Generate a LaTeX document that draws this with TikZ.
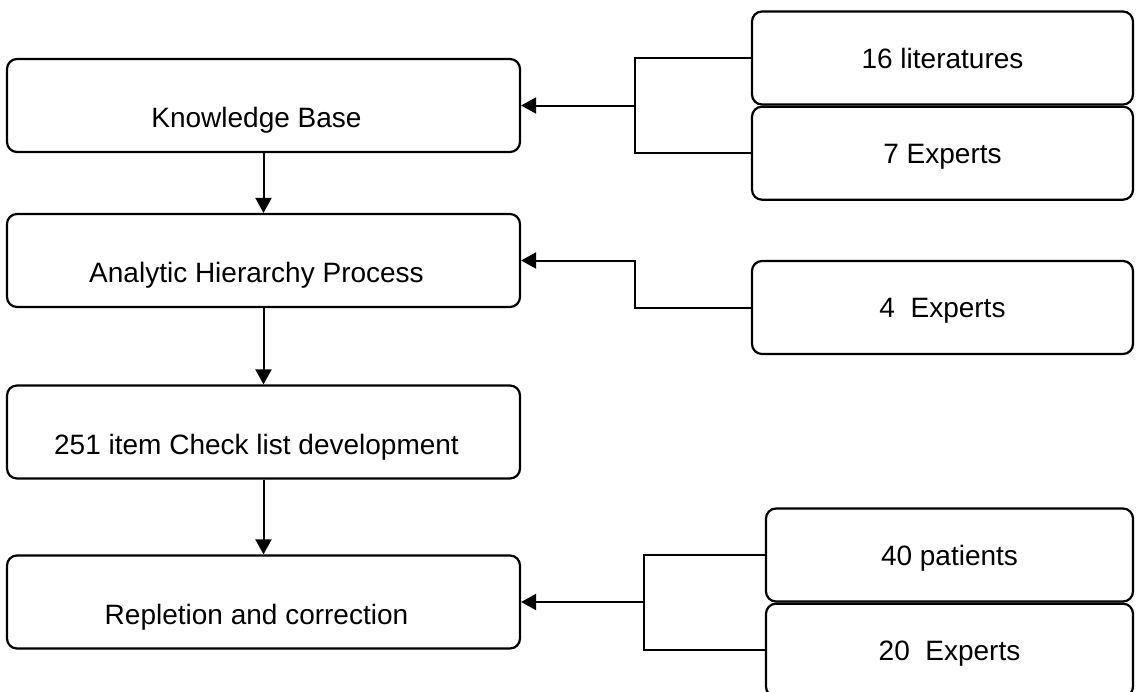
\documentclass[tikz,border=0pt]{standalone}
\usepackage{fontspec}
\setmainfont{Liberation Sans}
\usepackage{tikz}
\usetikzlibrary{positioning,arrows.meta}

\begin{document}
\begin{tikzpicture}[
  x=1pt, y=-1pt,
  node distance=0pt,
  every node/.style={font=\fontsize{28}{33}\selectfont},
  stage/.style={draw, rounded corners=10pt, line width=2.2pt, inner sep=0pt, minimum width=513pt, minimum height=93pt, text height=44pt, text depth=0pt},
  source/.style={draw, rounded corners=10pt, line width=2.2pt, inner sep=0pt, minimum width=381pt, minimum height=93pt, text height=20pt, text depth=0pt},
  arr/.style={-{Triangle[length=15pt, width=16pt]}, line width=2pt},
  link/.style={line width=2.2pt}
]
\useasboundingbox (0,0) rectangle (1140,691);

% main steps
\node[stage] (kb) at (263.5,105.5) {Knowledge Base\hspace*{14pt}};
\node[stage] (ahp) at (263.5,260.5) {Analytic Hierarchy Process\hspace*{14pt}};
\node[stage] (check) at (263.5,432) {251 item Check list development\hspace*{14pt}};
\node[stage] (repl) at (263.5,602) {Repletion and correction\hspace*{14pt}};

% inputs
\node[source] (lit) at (942.5,58) {16 literatures};
\node[source, below=of lit] (exp7) {7 Experts};
\node[source] (exp4) at (942.5,307.5) {4~ Experts};
\node[source, minimum width=367pt] (pat) at (949.5,555) {40 patients};
\node[source, minimum width=367pt, below=of pat] (exp20) {20~ Experts};

\coordinate (j1) at ([xshift=114pt]kb.east);
\coordinate (j2) at ([xshift=114pt]ahp.east);
\coordinate (j3) at ([xshift=123pt]repl.east);

\draw[arr] (kb) -- (ahp);
\draw[arr] (ahp) -- (check);
\draw[arr] (check) -- (repl);

\draw[link] (lit.west) -| (j1) |- (exp7.west);
\draw[arr] (j1) -- (kb.east);
\draw[arr] (exp4.west) -| (j2) -- (ahp.east);
\draw[link] (pat.west) -| (j3) |- (exp20.west);
\draw[arr] (j3) -- (repl.east);
\end{tikzpicture}
\end{document}
